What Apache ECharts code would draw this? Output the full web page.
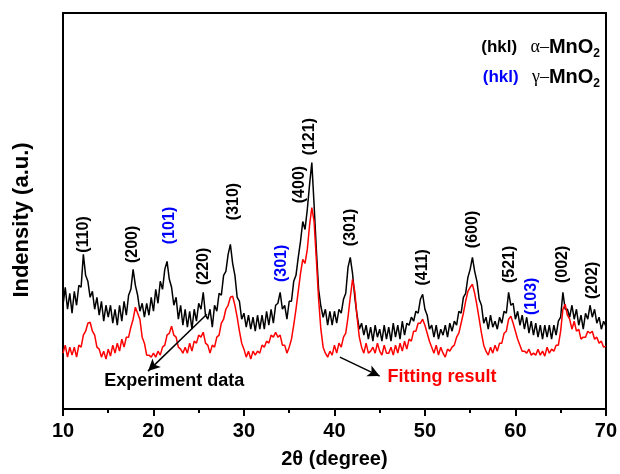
<!DOCTYPE html>
<html>
<head>
<meta charset="utf-8">
<script src="https://cdn.jsdelivr.net/npm/echarts@6/dist/echarts.min.js"></script>
<style>
html,body{margin:0;padding:0;background:#ffffff;}
#chart{width:620px;height:474px;}
</style>
</head>
<body>
<div id="chart"></div>
<script>
// 2θ sampling: 10° to 70° every 0.25°
const thetaStart = 10, thetaStep = 0.25;
// Experiment data (a.u.)
const experiment = [
104,122,100,116, 96,118,104,124, 122,155,134,128, 112,118,100,112,
94,108,88,104, 92,104,86,100, 84,104,88,108, 94,114,120,140,
124,114,98,106, 92,106,94,112, 98,120,106,128, 120,140,148,130,
122,104,112,90, 104,84,100,82, 98,80,100,88, 106,100,117,94,
90,100,82,104, 98,116,114,134, 138,155,165,146, 134,112,108,90,
96,82,94,80, 92,78,94,80, 94,80,98,84, 100,86,104,106,
117,100,104,90, 108,108,128,134, 152,168,188,180, 200,225,247,205,
160,120,103,92, 100,84,98,84, 98,86,100,96, 110,116,142,152,
136,112,94,80, 86,74,84,70, 82,68,84,72, 80,68,84,70,
82,68,86,72, 84,70,88,74, 86,84,92,88, 98,96,110,115,
100,94,80,84, 72,84,70,80, 74,84,72,86, 78,88,84,98,
96,112,116,132, 140,152,138,128, 110,104,86,92, 80,94,82,88,
80,92,86,98, 96,117,104,106, 90,98,84,94, 80,92,76,88,
74,86,72,84, 70,84,72,84, 70,84,74,88, 92,117,100,100,
92,104,90,100, 84,94,80,96, 90,104,92,100, 86,92,80,88,
83];
// Fitting result (a.u.)
const fitting = [
56,64,52,62, 54,62,52,64, 62,74,78,86, 87,78,74,62,
60,52,58,50, 60,53,64,56, 66,58,70,62, 72,72,82,90,
102,96,90,72, 66,54,54,52, 56,52,58,54, 62,64,74,76,
83,74,72,62, 60,56,62,56, 66,58,68,66, 74,72,77,66,
64,56,64,62, 72,74,86,90, 100,104,112,113, 104,92,78,66,
60,52,58,50, 58,54,58,56, 64,62,68,66, 74,72,77,72,
74,64,64,56, 62,70,84,100, 118,136,150,146, 160,184,202,188,
150,110,80,62, 56,52,58,54, 64,56,66,62, 72,76,92,112,
130,118,92,72, 62,56,66,56, 58,62,56,66, 58,54,64,56,
56,62,54,64, 56,66,58,68, 60,70,68,78, 78,86,86,90,
84,76,68,62, 56,64,54,62, 56,52,60,58, 62,64,72,76,
86,96,108,118, 122,125,116,104, 90,76,64,58, 54,62,56,64,
58,66,66,76, 78,90,93,86, 78,70,64,58, 58,56,60,54,
56,54,60,54, 58,53,62,56, 60,58,64,64, 78,100,105,94,
90,80,88,78, 80,70,72,72, 78,76,78,70, 72,66,68,62,
63];
// Peak labels
const peakHkl   = ['(110)','(200)','(101)','(220)','(310)','(301)','(400)','(121)','(301)','(411)','(600)','(521)','(103)','(002)','(202)'];
const peakPhase = ['a','a','g','a','a','g','a','a','a','a','a','a','g','a','a'];
const peakTheta = [12.3,17.7,21.8,25.5,28.8,34.2,36.2,37.3,41.8,49.7,55.3,59.4,61.8,65.2,68.5];
const peakLabelY= [175,165,184,143,208,146,225,273,182,142,180,145,113,145,129];
// Axis ticks
const xTicks = [10,20,30,40,50,60,70];
// Annotations
const annoText  = ['Experiment data','Fitting result'];
const annoTheta = [22.3, 51.9];
const annoY     = [28, 32];
const arrowFrom = [[25.9,95],[40.6,52]];
const arrowTo   = [[19.4,38],[45.0,33]];

const toXY = arr => arr.map((v,i)=>[thetaStart + i*thetaStep, v]);
const BLUE = '#0000ff';
const FONT = '"Liberation Sans", Arial, sans-serif';

const chart = echarts.init(document.getElementById('chart'), null, {renderer:'canvas'});
const axisLineStyle = {color:'#000', width:2};
const option = {
  backgroundColor:'#ffffff',
  animation:false,
  grid:{left:63, right:14, top:13, bottom:64},
  xAxis:[{
    type:'value', min:10, max:70, interval:10,
    position:'bottom',
    axisLine:{show:true, onZero:false, lineStyle:axisLineStyle},
    axisTick:{show:true, inside:false, length:7, lineStyle:{width:2,color:'#000'}},
    minorTick:{show:true, splitNumber:2, length:4, lineStyle:{width:2,color:'#000'}},
    splitLine:{show:false},
    axisLabel:{show:true, margin:12, color:'#000', fontFamily:FONT, fontWeight:'bold', fontSize:20,
      formatter: v => xTicks.includes(v) ? String(v) : ''},
    name:'2θ (degree)', nameLocation:'middle', nameGap:40,
    nameTextStyle:{color:'#000', fontFamily:FONT, fontWeight:'bold', fontSize:20}
  },{
    type:'value', min:10, max:70, position:'top',
    axisLine:{show:true, onZero:false, lineStyle:axisLineStyle},
    axisTick:{show:false}, axisLabel:{show:false}, splitLine:{show:false}
  }],
  yAxis:[{
    type:'value', min:0, max:397, position:'left',
    axisLine:{show:true, onZero:false, lineStyle:axisLineStyle},
    axisTick:{show:false}, axisLabel:{show:false}, splitLine:{show:false},
    name:'Indensity (a.u.)', nameLocation:'middle', nameGap:30,
    nameTextStyle:{color:'#000', fontFamily:FONT, fontWeight:'bold', fontSize:22, padding:[0,18,0,0]}
  },{
    type:'value', min:0, max:397, position:'right',
    axisLine:{show:true, onZero:false, lineStyle:axisLineStyle},
    axisTick:{show:false}, axisLabel:{show:false}, splitLine:{show:false}
  }],
  series:[
    {
      name:'Experiment data', type:'line', data:toXY(experiment),
      showSymbol:false, symbol:'none', lineStyle:{color:'#000', width:1.5}, z:2,
      markLine:{
        silent:true, symbol:['none','arrow'], symbolSize:[9,12],
        lineStyle:{color:'#000', width:1.5, type:'solid'},
        label:{show:false},
        data: arrowFrom.map((f,i)=>[{coord:f},{coord:arrowTo[i]}])
      }
    },
    {
      name:'Fitting result', type:'line', data:toXY(fitting),
      showSymbol:false, symbol:'none', lineStyle:{color:'#ff0000', width:1.5}, z:3
    },
    {
      name:'peaks', type:'scatter', symbolSize:0, z:5,
      itemStyle:{opacity:1},
      data: peakHkl.map((t,i)=>({value:[peakTheta[i], peakLabelY[i]], name:t,
        label:{color: peakPhase[i]==='g' ? BLUE : '#000'}})),
      label:{show:true, position:'inside', rotate:90, formatter: p => p.name, opacity:1,
        fontFamily:FONT, fontSize:16, fontWeight:'bold', align:'center', verticalAlign:'middle',
        textBorderWidth:0, textShadowBlur:0}
    },
    {
      name:'anno', type:'scatter', symbolSize:0, z:5,
      itemStyle:{opacity:1},
      data: annoText.map((t,i)=>({value:[annoTheta[i], annoY[i]], name:t,
        label:{color: i===0 ? '#000' : '#ff0000'}})),
      label:{show:true, position:'inside', formatter: p => p.name, opacity:1,
        fontFamily:FONT, fontSize:18, fontWeight:'bold', textBorderWidth:0}
    }
  ],
  graphic:[
    {
      type:'text', right:20, top:37,
      style:{
        text:'{b|(hkl)}    {g|α–}{m|MnO}{s|2}',
        rich:{
          b:{fontFamily:FONT, fontWeight:'bold', fontSize:17, fill:'#000', color:'#000'},
          m:{fontFamily:FONT, fontWeight:'bold', fontSize:20, fill:'#000', color:'#000'},
          g:{fontFamily:'"Liberation Serif", serif', fontSize:18, fill:'#000', color:'#000'},
          s:{fontFamily:FONT, fontWeight:'bold', fontSize:12, padding:[13,0,0,0], fill:'#000', color:'#000'}
        }
      }
    },
    {
      type:'text', right:20, top:67,
      style:{
        text:'{bl|(hkl)}    {g|γ–}{m|MnO}{s|2}',
        rich:{
          bl:{fontFamily:FONT, fontWeight:'bold', fontSize:17, fill:BLUE, color:BLUE},
          m:{fontFamily:FONT, fontWeight:'bold', fontSize:20, fill:'#000', color:'#000'},
          g:{fontFamily:'"Liberation Serif", serif', fontSize:18, fill:'#000', color:'#000'},
          s:{fontFamily:FONT, fontWeight:'bold', fontSize:12, padding:[13,0,0,0], fill:'#000', color:'#000'}
        }
      }
    }
  ]
};
chart.setOption(option);
</script>
</body>
</html>
